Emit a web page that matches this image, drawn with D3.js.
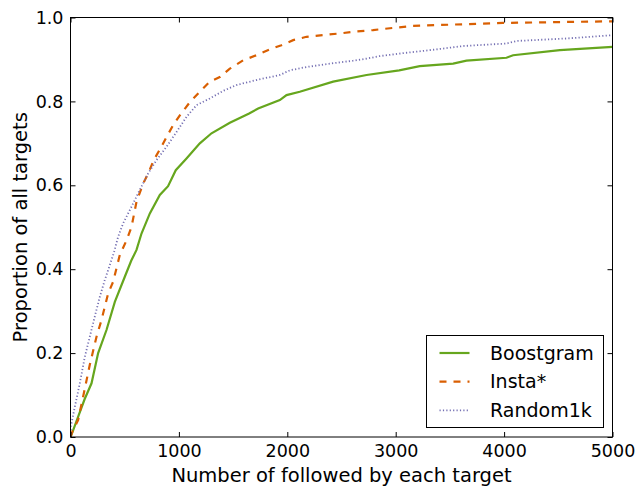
<!DOCTYPE html>
<html>
<head>
<meta charset="utf-8">
<script src="https://cdn.jsdelivr.net/npm/d3@7"></script>
<style>
  body { margin: 0; background: #fff; }
  svg { display: block; font-family: "DejaVu Sans", sans-serif; }
</style>
</head>
<body>
<div id="chart"></div>
<script>
// follower counts (x) and cumulative proportions (y)
const boostX = [0, 20, 70, 130, 194, 255, 332, 409, 501, 560, 609, 655, 732, 824, 900, 971, 1070, 1193, 1301, 1470, 1648, 1731, 1931, 1993, 2115, 2423, 2731, 3032, 3222, 3530, 3653, 4022, 4083, 4514, 5000];
const boostY = [0.0, 0.013, 0.048, 0.09, 0.128, 0.2, 0.255, 0.322, 0.382, 0.42, 0.446, 0.485, 0.533, 0.577, 0.598, 0.636, 0.664, 0.70, 0.724, 0.749, 0.771, 0.783, 0.803, 0.815, 0.823, 0.847, 0.863, 0.874, 0.884, 0.890, 0.897, 0.904, 0.910, 0.922, 0.930];

const instaX = [0, 20, 70, 126, 178, 240, 286, 347, 393, 455, 517, 563, 609, 670, 716, 768, 830, 886, 946, 1015, 1101, 1193, 1285, 1377, 1470, 1592, 1716, 1838, 1946, 2054, 2177, 2330, 2484, 2607, 2792, 3007, 3160, 3990, 5000];
const instaY = [0.0, 0.015, 0.04, 0.108, 0.172, 0.239, 0.279, 0.342, 0.370, 0.434, 0.469, 0.501, 0.561, 0.604, 0.628, 0.660, 0.688, 0.715, 0.743, 0.769, 0.798, 0.823, 0.847, 0.858, 0.878, 0.898, 0.910, 0.924, 0.934, 0.946, 0.954, 0.958, 0.962, 0.966, 0.970, 0.976, 0.980, 0.987, 0.991];

const randX = [0, 3, 40, 86, 132, 178, 224, 270, 316, 363, 402, 439, 485, 563, 639, 716, 793, 886, 978, 1070, 1162, 1285, 1408, 1531, 1716, 1931, 2023, 2177, 2391, 2607, 2731, 2853, 3100, 3376, 3622, 4022, 4114, 4575, 4852, 5000];
const randY = [0.0, 0.025, 0.072, 0.128, 0.191, 0.239, 0.287, 0.334, 0.374, 0.410, 0.441, 0.477, 0.509, 0.549, 0.589, 0.628, 0.660, 0.692, 0.727, 0.763, 0.791, 0.807, 0.825, 0.839, 0.851, 0.863, 0.874, 0.882, 0.890, 0.897, 0.902, 0.908, 0.916, 0.924, 0.932, 0.938, 0.944, 0.950, 0.955, 0.958];

const seriesNames = ['Boostgram', 'Insta*', 'Random1k'];
const xTicks = [0, 1000, 2000, 3000, 4000, 5000];
const yTicks = [0.0, 0.2, 0.4, 0.6, 0.8, 1.0];

const colors = ['#66a61e', '#d95f02', '#7570b3'];
const dashes = [null, '7,7', '1.2,2.2'];
const widths = [2.2, 2.2, 1.8];

const series = [
  boostX.map((x, i) => [x, boostY[i]]),
  instaX.map((x, i) => [x, instaY[i]]),
  randX.map((x, i) => [x, randY[i]])
];

const W = 638, H = 489;
const margin = {top: 17.5, right: 25.5, bottom: 52, left: 70.5};
const width = W - margin.left - margin.right;
const height = H - margin.top - margin.bottom;

const svg = d3.select('#chart').append('svg')
  .attr('width', W)
  .attr('height', H);

const g = svg.append('g')
  .attr('transform', 'translate(' + margin.left + ',' + margin.top + ')');

const x = d3.scaleLinear().domain([0, 5000]).range([0, width]);
const y = d3.scaleLinear().domain([0, 1]).range([height, 0]);

// clip so the lines stay in the frame
g.append('clipPath').attr('id', 'clip')
  .append('rect').attr('width', width).attr('height', height);

const line = d3.line()
  .x(d => x(d[0]))
  .y(d => y(d[1]));

g.append('g').attr('clip-path', 'url(#clip)')
  .selectAll('path')
  .data(series)
  .enter().append('path')
  .attr('d', line)
  .attr('fill', 'none')
  .attr('stroke', (d, i) => colors[i])
  .attr('stroke-width', (d, i) => widths[i])
  .attr('stroke-dasharray', (d, i) => dashes[i]);

// axes, ticks pointing inward
const axFont = '17.5px';
const xAxis = g.append('g')
  .attr('transform', 'translate(0,' + height + ')')
  .call(d3.axisBottom(x).tickValues(xTicks).tickSizeInner(-5).tickSizeOuter(0).tickPadding(8).tickFormat(d3.format('d')));
const yAxis = g.append('g')
  .call(d3.axisLeft(y).tickValues(yTicks).tickSizeInner(-5).tickSizeOuter(0).tickPadding(7).tickFormat(d3.format('.1f')));
const topAxis = g.append('g')
  .call(d3.axisTop(x).tickValues(xTicks).tickSizeInner(-5).tickSizeOuter(0).tickFormat(''));
const rightAxis = g.append('g')
  .attr('transform', 'translate(' + width + ',0)')
  .call(d3.axisRight(y).tickValues(yTicks).tickSizeInner(-5).tickSizeOuter(0).tickFormat(''));

[xAxis, yAxis, topAxis, rightAxis].forEach(a => {
  a.select('.domain').remove();
  a.selectAll('line').attr('stroke', '#000').attr('stroke-width', 1);
  a.selectAll('text')
    .style('font-family', '"DejaVu Sans", sans-serif')
    .style('font-size', axFont)
    .attr('fill', '#000');
});

g.append('rect')
  .attr('width', width)
  .attr('height', height)
  .attr('fill', 'none')
  .attr('stroke', '#000')
  .attr('stroke-width', 1);

// axis titles
svg.append('text')
  .attr('x', margin.left + width / 2)
  .attr('y', 481.5)
  .attr('text-anchor', 'middle')
  .style('font-size', '19.5px')
  .text('Number of followed by each target');

svg.append('text')
  .attr('transform', 'translate(27,' + (margin.top + height / 2) + ') rotate(-90)')
  .attr('text-anchor', 'middle')
  .style('font-size', '19.5px')
  .text('Proportion of all targets');

// legend
const leg = svg.append('g').attr('transform', 'translate(426.5,335.5)');
leg.append('rect')
  .attr('width', 177)
  .attr('height', 92)
  .attr('fill', '#fff')
  .attr('stroke', '#000')
  .attr('stroke-width', 1);

const rows = leg.selectAll('.row')
  .data(seriesNames)
  .enter().append('g')
  .attr('class', 'row')
  .attr('transform', (d, i) => 'translate(0,' + (17.5 + i * 28.7) + ')');

rows.append('line')
  .attr('x1', 13)
  .attr('x2', 43)
  .attr('stroke', (d, i) => colors[i])
  .attr('stroke-width', (d, i) => widths[i])
  .attr('stroke-dasharray', (d, i) => dashes[i]);

rows.append('text')
  .attr('x', 63.5)
  .attr('y', 6.5)
  .style('font-size', '19px')
  .text(d => d);
</script>
</body>
</html>
